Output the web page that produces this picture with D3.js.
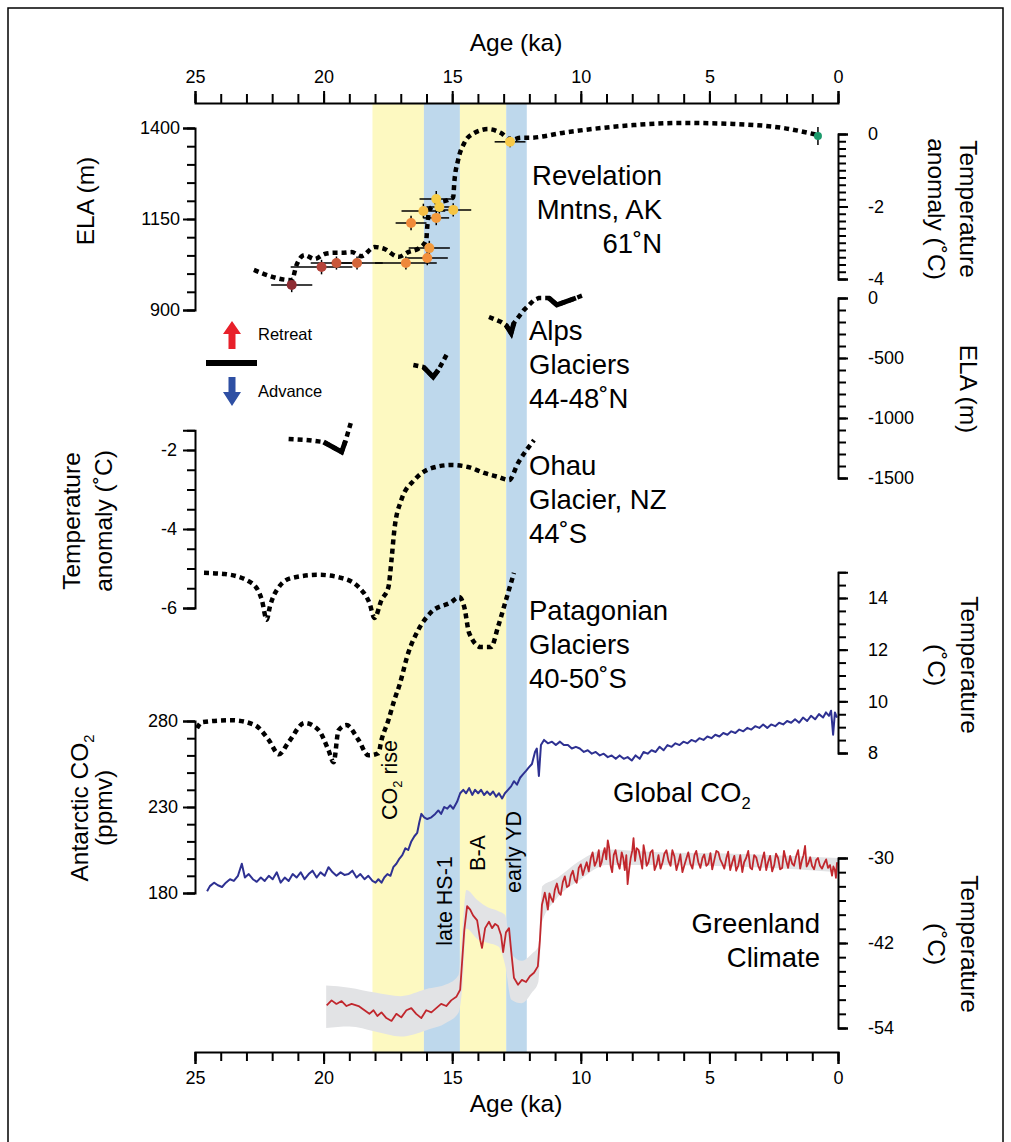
<!DOCTYPE html>
<html>
<head>
<meta charset="utf-8">
<script src="https://cdn.jsdelivr.net/npm/d3@7"></script>
<style>
  body { margin: 0; background: #fff; }
</style>
</head>
<body>
<svg id="chart" width="1011" height="1142"></svg>
<script>
// ---------- data ----------
const ageMajor = [25, 20, 15, 10, 5, 0];

// shaded intervals (ka)
const bandFrom = [18.1, 16.1, 14.7, 12.9];
const bandTo = [16.1, 14.7, 12.9, 12.1];
const bandColor = ["#fdf9c1", "#bed8ec", "#fdf9c1", "#bed8ec"];

// Revelation Mountains reconstruction (ELA, m)
const revAge = [22.71, 21.24, 21.05, 20.74, 20.35, 19.96, 19.61, 19.30, 18.91, 18.53, 18.02, 17.64, 17.09, 16.71, 16.28, 16.01, 15.97, 15.89, 15.54, 15.16, 14.96, 14.92, 14.77, 14.53, 14.15, 13.60, 13.10, 12.71, 12.33, 12.05, 10.50, 7.95, 6.01, 4.07, 2.13, 0.81];
const revEla = [1010, 982, 1024, 1051, 1040, 1054, 1057, 1057, 1059, 1048, 1073, 1068, 1046, 1059, 1070, 1092, 1128, 1175, 1194, 1202, 1210, 1249, 1312, 1359, 1386, 1397, 1386, 1367, 1373, 1373, 1389, 1408, 1414, 1411, 1400, 1381];

// Revelation moraine ages with error bars
const ptAge = [21.24, 20.08, 19.5, 18.7, 16.8, 15.97, 15.89, 16.6, 16.12, 15.62, 15.5, 15.62, 14.96, 12.75, 0.78];
const ptEla = [969, 1018, 1029, 1029, 1029, 1043, 1070, 1139, 1172, 1205, 1183, 1153, 1175, 1362, 1378];
const ptAgeErr = [0.8, 1.2, 1.0, 1.0, 1.2, 0.8, 0.8, 0.6, 0.85, 0.65, 0.5, 0.5, 0.7, 0.6, 0];
const ptElaErr = [20, 20, 18, 18, 18, 20, 20, 20, 20, 22, 18, 20, 18, 15, 25];
const ptColor = ["#8e2c33", "#b5433a", "#c8573a", "#d3663b", "#ee883b", "#f28f3b", "#f39a3c", "#f08a3a", "#f5be45", "#f7cd47", "#f7cd47", "#f39a3c", "#f5c443", "#f7c948", "#1c9a6c"];

// Alps glaciers (ELA change, m); group = separate segment, check = solid advance tick
const alpsAge = [21.36, 20.66, 20.0, 19.3, 19.15, 18.91, 16.51, 16.12, 15.74, 15.54, 15.16, 13.57, 13.10, 12.91, 12.71, 12.60, 12.21, 11.82, 11.63, 11.24, 10.93, 10.19, 9.88];
const alpsEla = [-1175, -1183, -1200, -1283, -1192, -1017, -558, -575, -658, -600, -450, -158, -200, -225, -292, -208, -100, -17, 0, 0, -58, 0, 25];
const alpsGroup = [0, 0, 0, 0, 0, 0, 1, 1, 1, 1, 1, 2, 2, 2, 2, 2, 2, 2, 2, 2, 2, 2, 2];
const alpsCheck = [0, 0, 1, 1, 1, 0, 0, 1, 1, 1, 0, 0, 0, 1, 1, 1, 0, 0, 0, 1, 1, 1, 0];

// Ohau Glacier temperature anomaly (°C)
const ohauAge = [24.65, 23.84, 22.79, 22.40, 22.21, 22.09, 21.74, 21.24, 20.19, 19.30, 18.64, 18.22, 18.02, 17.75, 17.48, 17.36, 17.25, 16.98, 16.47, 15.81, 15.04, 14.38, 13.76, 13.22, 12.79, 12.44, 11.82];
const ohauT = [-5.11, -5.14, -5.37, -5.80, -6.30, -5.97, -5.47, -5.24, -5.16, -5.24, -5.47, -5.87, -6.25, -5.80, -5.47, -4.78, -4.03, -3.27, -2.76, -2.46, -2.38, -2.43, -2.58, -2.68, -2.76, -2.33, -1.75];

// Patagonian glaciers temperature (°C)
const patAge = [24.92, 24.73, 23.57, 22.67, 22.13, 21.74, 21.36, 20.74, 20.19, 19.81, 19.61, 19.42, 19.11, 18.64, 18.26, 17.87, 17.75, 17.48, 17.25, 17.05, 16.71, 16.32, 15.81, 15.04, 14.73, 14.53, 14.34, 13.88, 13.49, 13.22, 12.91, 12.60];
const patT = [8.96, 9.19, 9.27, 9.08, 8.50, 7.95, 8.42, 9.16, 8.88, 8.11, 7.64, 8.88, 9.08, 8.50, 7.91, 7.99, 8.50, 9.27, 10.05, 10.63, 11.87, 12.76, 13.46, 13.84, 14.04, 13.65, 12.64, 12.10, 12.10, 12.88, 13.92, 14.97];

// Antarctic CO2 (ppmv)
const co2Age = [24.53, 24.42, 24.26, 24.11, 23.95, 23.80, 23.64, 23.49, 23.33, 23.18, 23.06, 22.91, 22.75, 22.60, 22.44, 22.29, 22.13, 21.98, 21.82, 21.67, 21.51, 21.36, 21.20, 21.05, 20.89, 20.74, 20.58, 20.43, 20.27, 20.12, 19.96, 19.81, 19.65, 19.50, 19.34, 19.19, 19.03, 18.88, 18.72, 18.57, 18.41, 18.26, 18.10, 17.98, 17.87, 17.75, 17.64, 17.52, 17.40, 17.29, 17.17, 17.05, 16.94, 16.82, 16.71, 16.59, 16.47, 16.36, 16.28, 16.20, 16.09, 15.97, 15.81, 15.66, 15.54, 15.43, 15.31, 15.19, 15.08, 14.96, 14.81, 14.69, 14.57, 14.46, 14.34, 14.22, 14.11, 13.99, 13.88, 13.76, 13.64, 13.53, 13.41, 13.29, 13.18, 13.06, 12.95, 12.83, 12.71, 12.60, 12.48, 12.36, 12.25, 12.13, 12.02, 11.90, 11.78, 11.71, 11.63, 11.55, 11.43, 11.28, 11.12, 10.97, 10.81, 10.66, 10.50, 10.35, 10.19, 10.04, 9.88, 9.73, 9.57, 9.42, 9.26, 9.11, 8.95, 8.80, 8.64, 8.49, 8.33, 8.18, 8.02, 7.87, 7.71, 7.56, 7.40, 7.25, 7.09, 6.94, 6.78, 6.63, 6.47, 6.32, 6.16, 6.01, 5.85, 5.70, 5.54, 5.39, 5.23, 5.08, 4.92, 4.77, 4.61, 4.46, 4.30, 4.15, 3.99, 3.84, 3.68, 3.53, 3.37, 3.22, 3.06, 2.91, 2.75, 2.60, 2.44, 2.29, 2.13, 1.98, 1.82, 1.67, 1.51, 1.36, 1.20, 1.05, 0.89, 0.74, 0.58, 0.47, 0.35, 0.27, 0.19, 0.12, 0.04];
const co2Val = [181, 184, 186, 184.5, 183.5, 186, 188, 187, 190, 197, 189, 191, 188, 186.5, 189, 187, 190, 188, 192, 186, 189, 187, 191, 189, 192, 188, 191, 193, 189, 192, 190, 195, 192, 190, 192, 190.5, 191, 193, 189, 191, 188, 190, 187, 186, 188, 186, 189, 191, 190, 195, 197, 200, 202, 206, 205, 210, 213, 215, 221, 226, 224, 223, 224, 226, 228, 226, 230, 229, 231, 229, 233, 238, 240, 238, 241, 237, 240, 238, 240, 237, 239, 237, 239, 236, 238, 235, 238, 240, 242, 245, 243, 247, 249, 251, 253, 255, 262, 264, 248, 266, 269, 267, 268, 266, 268, 266, 266, 264, 265, 264, 262, 263, 261, 262, 260, 261, 259, 260, 258, 260, 258, 259, 257, 260, 258, 262, 261, 263, 262, 265, 263, 266, 265, 267, 266, 268, 267, 269, 268, 270, 269, 271, 270, 272, 271, 273, 272, 274, 273, 275, 274, 276, 275, 277, 276, 278, 276, 278, 277, 279, 278, 280, 279, 281, 279, 282, 280, 283, 281, 284, 282, 285, 283, 286, 272, 285, 282];

// Greenland temperature (°C)
const grAge = [19.88, 19.69, 19.50, 19.30, 19.11, 18.91, 18.64, 18.41, 18.22, 18.06, 17.91, 17.75, 17.56, 17.36, 17.17, 16.98, 16.78, 16.59, 16.40, 16.20, 16.01, 15.81, 15.62, 15.43, 15.23, 15.04, 14.84, 14.69, 14.61, 14.53, 14.42, 14.30, 14.19, 14.03, 13.91, 13.84, 13.72, 13.57, 13.45, 13.33, 13.22, 13.10, 13.02, 12.91, 12.79, 12.71, 12.60, 12.44, 12.29, 12.13, 11.98, 11.82, 11.67, 11.59, 11.51,
  11.40, 11.34, 11.28, 11.22, 11.16, 11.08, 11.01, 10.93, 10.85, 10.78, 10.70, 10.62, 10.54, 10.46, 10.39, 10.31, 10.23, 10.16, 10.08, 10.00, 9.92, 9.85, 9.77, 9.69, 9.61, 9.54, 9.46, 9.38, 9.30, 9.25, 9.19, 9.13, 9.07, 9.01, 8.95, 8.90, 8.84, 8.78, 8.72, 8.65, 8.57, 8.49, 8.41, 8.35, 8.29, 8.23, 8.18, 8.12, 8.06, 8.00, 7.95, 7.89, 7.83, 7.75, 7.67, 7.61, 7.56, 7.50, 7.44, 7.37, 7.29, 7.21, 7.13, 7.05, 6.98, 6.90, 6.82, 6.75, 6.67, 6.59, 6.51, 6.44, 6.36, 6.28, 6.20, 6.13, 6.05, 5.97, 5.89, 5.82, 5.74, 5.66, 5.58, 5.51, 5.43, 5.35, 5.27, 5.20, 5.12, 5.04, 4.96, 4.89, 4.81, 4.73, 4.65, 4.58, 4.50, 4.42, 4.34, 4.27, 4.19, 4.11, 4.03, 3.96, 3.88, 3.80, 3.72, 3.65, 3.57, 3.49, 3.41, 3.34, 3.26, 3.18, 3.10, 3.03, 2.95, 2.87, 2.79, 2.72, 2.64, 2.56, 2.48, 2.41, 2.33, 2.25, 2.17, 2.10, 2.02, 1.94, 1.86, 1.78, 1.71, 1.63, 1.55, 1.47, 1.40, 1.34, 1.28, 1.22, 1.16, 1.08, 1.01, 0.93, 0.85, 0.78, 0.70, 0.62, 0.54, 0.46, 0.39, 0.31, 0.23, 0.18, 0.12, 0.08, 0.04];
const grT = [-50.8, -50.1, -50.6, -50.2, -50.9, -50.6, -50.9, -51.5, -52.0, -51.5, -52.3, -51.8, -52.6, -53.0, -52.0, -52.5, -51.5, -51.2, -52.0, -52.6, -51.5, -51.8, -51.2, -50.6, -50.9, -50.1, -49.6, -48.6, -44.4, -40.2, -36.8, -37.3, -38.1, -38.8, -41.6, -42.7, -39.9, -39.0, -39.9, -39.3, -39.6, -40.9, -43.3, -40.5, -39.9, -43.0, -46.9, -47.9, -47.2, -47.5, -46.7, -46.2, -45.3, -41.6, -36.6,
  -34.9, -36.0, -37.3, -35.0, -35.6, -36.2, -34.5, -33.6, -34.9, -35.2, -33.4, -32.6, -34.1, -33.9, -32.5, -31.8, -33.1, -33.5, -31.4, -30.9, -32.4, -31.5, -30.6, -31.9, -30.0, -29.2, -31.1, -30.4, -28.9, -31.2, -30.6, -29.4, -28.6, -30.2, -27.5, -28.5, -31.1, -32.0, -29.6, -28.9, -30.6, -31.5, -29.2, -30.0, -31.7, -29.6, -33.7, -31.6, -30.0, -29.0, -27.2, -30.4, -28.6, -28.9, -30.3, -31.5, -28.2, -29.4, -31.1, -30.6, -29.2, -28.9, -31.7, -30.9, -29.6, -31.5, -30.6, -29.4, -28.9, -30.4, -31.1, -28.9, -29.8, -31.7, -30.6, -29.5, -32.0, -31.0, -30.0, -29.2, -30.8, -31.5, -29.6, -29.0, -30.6, -31.4, -30.0, -29.5, -31.1, -30.8, -29.3, -31.6, -30.3, -29.0, -29.2, -30.2, -30.8, -31.5, -30.0, -29.1, -31.7, -30.6, -29.7, -31.8, -31.1, -29.6, -32.0, -30.6, -30.0, -29.0, -31.4, -31.6, -29.6, -29.9, -31.1, -31.7, -30.3, -29.2, -31.7, -30.6, -29.7, -31.9, -31.0, -29.4, -30.0, -31.6, -31.4, -29.0, -30.3, -31.4, -29.7, -30.8, -31.1, -29.8, -28.9, -31.5, -30.3, -29.6, -28.3, -31.2, -30.8, -29.9, -31.1, -31.6, -30.3, -30.0, -31.1, -31.5, -30.8, -30.2, -31.4, -31.0, -32.5, -31.2, -31.7, -32.8, -30.6];

// Greenland uncertainty envelope (°C)
const gBandAge = [19.9, 19.0, 18.0, 17.0, 16.0, 15.2, 14.75, 14.6, 14.45, 14.0, 13.6, 13.2, 12.95, 12.7, 12.3, 11.9, 11.65, 11.5, 11.0, 10.0, 9.0, 7.0, 4.0, 0.0];
const gBandHi = [-48.0, -48.3, -49.0, -49.5, -48.5, -47.8, -46.5, -40.0, -34.5, -36.0, -37.0, -37.5, -38.0, -43.5, -44.5, -43.5, -42.5, -34.0, -33.0, -30.3, -28.8, -29.2, -29.4, -30.0];
const gBandLo = [-54.0, -53.8, -54.5, -55.2, -54.3, -53.2, -51.8, -48.0, -40.0, -41.5, -42.0, -42.5, -45.0, -50.0, -50.5, -49.0, -47.5, -39.0, -36.0, -33.0, -31.0, -31.0, -31.2, -32.0];

// ---------- drawing ----------
const FONT = "'Liberation Sans', Arial, Helvetica, sans-serif";
const svg = d3.select("#chart");

const x = d3.scaleLinear().domain([25, 0]).range([195, 838]);
const yEla = d3.scaleLinear().domain([1400, 900]).range([128, 310]);
const yRevT = d3.scaleLinear().domain([0, -4]).range([134, 279]);
const yAlps = d3.scaleLinear().domain([0, -1500]).range([298, 478]);
const yOhau = d3.scaleLinear().domain([-2, -6]).range([450, 608]);
const yPat = d3.scaleLinear().domain([14, 8]).range([598, 753]);
const yCo2 = d3.scaleLinear().domain([280, 180]).range([721, 893]);
const yGr = d3.scaleLinear().domain([-30, -54]).range([858, 1028]);
const yTop = 103, yBot = 1052;

// frame
svg.append("rect").attr("x", 8).attr("y", 8).attr("width", 995).attr("height", 1150)
  .attr("fill", "none").attr("stroke", "#000").attr("stroke-width", 1.5);

// shaded intervals
svg.append("g").selectAll("rect").data(bandFrom).join("rect")
  .attr("x", d => x(d)).attr("width", (d, i) => x(bandTo[i]) - x(d))
  .attr("y", yTop).attr("height", yBot - yTop)
  .attr("fill", (d, i) => bandColor[i]);

function dotted(pts, yS, curve) {
  const line = d3.line().x(d => x(d[0])).y(d => yS(d[1])).curve(curve || d3.curveMonotoneX);
  svg.append("path").attr("d", line(pts)).attr("fill", "none")
    .attr("stroke", "#000").attr("stroke-width", 4.5).attr("stroke-dasharray", "5,4");
}

// Revelation curve
dotted(revAge.map((a, i) => [a, revEla[i]]), yEla);

// Alps segments + advance ticks
d3.groups(alpsAge.map((a, i) => ({ a, e: alpsEla[i], g: alpsGroup[i], c: alpsCheck[i] })), d => d.g)
  .forEach(([g, pts]) => {
    dotted(pts.map(p => [p.a, p.e]), yAlps, d3.curveLinear);
    let run = [];
    pts.forEach((p, j) => {
      if (p.c) run.push(p);
      if ((!p.c || j === pts.length - 1) && run.length) {
        svg.append("path")
          .attr("d", d3.line().x(d => x(d.a)).y(d => yAlps(d.e))(run))
          .attr("fill", "none").attr("stroke", "#000").attr("stroke-width", 5)
          .attr("stroke-linejoin", "miter");
        run = [];
      }
    });
  });

// Ohau + Patagonia
dotted(ohauAge.map((a, i) => [a, ohauT[i]]), yOhau);
dotted(patAge.map((a, i) => [a, patT[i]]), yPat);

// Greenland envelope + line
svg.append("path")
  .attr("d", d3.area().x((d, i) => x(d)).y0((d, i) => yGr(gBandLo[i])).y1((d, i) => yGr(gBandHi[i])).curve(d3.curveMonotoneX)(gBandAge))
  .attr("fill", "#e2e3e5");
svg.append("path")
  .attr("d", d3.line().x(d => x(d)).y((d, i) => yGr(grT[i]))(grAge))
  .attr("fill", "none").attr("stroke", "#c1272d").attr("stroke-width", 1.8).attr("stroke-linejoin", "round");

// CO2 line
svg.append("path")
  .attr("d", d3.line().x(d => x(d)).y((d, i) => yCo2(co2Val[i]))(co2Age))
  .attr("fill", "none").attr("stroke", "#2e3192").attr("stroke-width", 2).attr("stroke-linejoin", "round");

// Revelation points with error bars
const pts = svg.append("g");
pts.selectAll("line.h").data(ptAge).join("line")
  .attr("x1", (d, i) => x(d + ptAgeErr[i])).attr("x2", (d, i) => x(d - ptAgeErr[i]))
  .attr("y1", (d, i) => yEla(ptEla[i])).attr("y2", (d, i) => yEla(ptEla[i]))
  .attr("stroke", "#000").attr("stroke-width", 1.5);
pts.selectAll("line.v").data(ptAge).join("line")
  .attr("x1", d => x(d)).attr("x2", d => x(d))
  .attr("y1", (d, i) => yEla(ptEla[i] + ptElaErr[i])).attr("y2", (d, i) => yEla(ptEla[i] - ptElaErr[i]))
  .attr("stroke", "#000").attr("stroke-width", 1.5);
pts.selectAll("circle").data(ptAge).join("circle")
  .attr("cx", d => x(d)).attr("cy", (d, i) => yEla(ptEla[i])).attr("r", (d, i) => i === 14 ? 4 : 5)
  .attr("fill", (d, i) => ptColor[i]);

// ---------- axes ----------
function axis(gen, scale, tx, ty, minor, major, minLen, majLen, pad) {
  const g = svg.append("g").attr("transform", `translate(${tx},${ty})`);
  g.append("g").call(gen(scale).tickValues(minor).tickSize(minLen).tickFormat(""))
    .call(s => s.select(".domain").remove());
  g.append("g").call(gen(scale).tickValues(major).tickSize(majLen).tickSizeOuter(majLen)
    .tickPadding(pad).tickFormat(d => String(d)));
  g.selectAll("line, path").attr("stroke", "#000").attr("stroke-width", 2);
  g.selectAll("text").attr("font-size", 18).attr("font-family", FONT).attr("fill", "#000");
  return g;
}
const ageMinor = d3.range(0, 26, 1);
axis(d3.axisTop, x, 0, yTop, ageMinor, ageMajor, 9, 12, 8);
axis(d3.axisBottom, x, 0, yBot, ageMinor, ageMajor, 9, 12, 7);

axis(d3.axisLeft, yEla, 195, 0, d3.range(900, 1401, 50), [1400, 1150, 900], 8, 12, 3);
axis(d3.axisRight, yRevT, 838, 0, d3.range(-4, 0.01, 0.2), [0, -2, -4], 8, 10, 20);
axis(d3.axisRight, yAlps, 838, 0, d3.range(-1500, 1, 100), [0, -500, -1000, -1500], 8, 10, 20);
axis(d3.axisLeft, d3.scaleLinear().domain([-1.5, -6]).range([yOhau(-1.5), yOhau(-6)]), 195, 0,
  d3.range(-6, -1.4, 0.5), [-2, -4, -6], 8, 12, 6);
axis(d3.axisRight, d3.scaleLinear().domain([15, 8]).range([yPat(15), yPat(8)]), 838, 0,
  d3.range(8, 15.01, 0.5), [14, 12, 10, 8], 8, 10, 20);
axis(d3.axisLeft, yCo2, 195, 0, d3.range(180, 281, 10), [280, 230, 180], 8, 12, 5);
axis(d3.axisRight, yGr, 838, 0, d3.range(-54, -29, 2), [-30, -42, -54], 8, 10, 20);

// ---------- text ----------
function txt(xp, yp, s, size, anchor, rot) {
  const t = svg.append("text").attr("font-family", FONT).attr("font-size", size)
    .attr("text-anchor", anchor || "start").attr("fill", "#000");
  if (rot) t.attr("transform", `translate(${xp},${yp}) rotate(${rot})`);
  else t.attr("x", xp).attr("y", yp);
  if (Array.isArray(s)) {
    s.forEach(p => {
      const ts = t.append("tspan").text(p.t);
      if (p.sub) ts.attr("font-size", size * 0.6).attr("dy", size * 0.25);
      if (p.back) ts.attr("dy", -size * 0.25);
    });
  } else t.text(s);
  return t;
}

txt(516, 51, "Age (ka)", 24.5, "middle");
txt(516, 1112, "Age (ka)", 24.5, "middle");

// left titles
txt(94, 201, "ELA (m)", 24.5, "middle", -90);
txt(80, 521, "Temperature", 24.5, "middle", -90);
txt(112, 521, "anomaly (˚C)", 24.5, "middle", -90);
txt(88, 808, [{ t: "Antarctic CO" }, { t: "2", sub: true }], 24.5, "middle", -90);
txt(112, 808, "(ppmv)", 24.5, "middle", -90);

// right titles
txt(960, 209, "Temperature", 24.5, "middle", 90);
txt(928, 209, "anomaly (˚C)", 24.5, "middle", 90);
txt(960, 389, "ELA (m)", 24.5, "middle", 90);
txt(961, 665, "Temperature", 24.5, "middle", 90);
txt(928, 665, "(˚C)", 24.5, "middle", 90);
txt(961, 944, "Temperature", 24.5, "middle", 90);
txt(928, 944, "(˚C)", 24.5, "middle", 90);

// panel labels
const big = 27.5;
txt(662, 185, "Revelation", big, "end");
txt(662, 219, "Mntns, AK", big, "end");
txt(662, 253, "61˚N", big, "end");
txt(529, 340, "Alps", big);
txt(529, 374, "Glaciers", big);
txt(529, 408, "44-48˚N", big);
txt(529, 475, "Ohau", big);
txt(529, 509, "Glacier, NZ", big);
txt(529, 543, "44˚S", big);
txt(529, 620, "Patagonian", big);
txt(529, 654, "Glaciers", big);
txt(529, 688, "40-50˚S", big);
txt(613, 802, [{ t: "Global CO" }, { t: "2", sub: true }], big);
txt(820, 933, "Greenland", big, "end");
txt(820, 967, "Climate", big, "end");

// interval labels
txt(397, 780, [{ t: "CO" }, { t: "2", sub: true }, { t: " rise", back: true }], 21.5, "middle", -90);
txt(452, 901, "late HS-1", 21.5, "middle", -90);
txt(485, 853, "B-A", 21.5, "middle", -90);
txt(521, 852, "early YD", 21.5, "middle", -90);

// retreat / advance key
svg.append("path").attr("d", "M232,321 L241,334 L235.5,334 L235.5,349 L228.5,349 L228.5,334 L223,334 Z").attr("fill", "#e8202a");
svg.append("rect").attr("x", 206).attr("y", 360).attr("width", 51).attr("height", 6).attr("fill", "#000");
svg.append("path").attr("d", "M232,406 L241,392 L235.5,392 L235.5,377 L228.5,377 L228.5,392 L223,392 Z").attr("fill", "#2e4fa3");
txt(258, 340, "Retreat", 16.5);
txt(258, 397, "Advance", 16.5);
</script>
</body>
</html>
